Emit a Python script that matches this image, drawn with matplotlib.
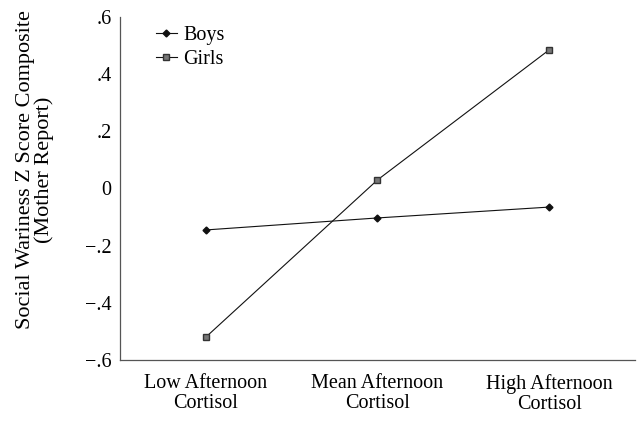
import matplotlib
matplotlib.use("Agg")
import matplotlib.pyplot as plt

categories = ["Low Afternoon\nCortisol", "Mean Afternoon\nCortisol", "High Afternoon\nCortisol"]
boys = [-0.145, -0.103, -0.065]
girls = [-0.52, 0.03, 0.485]
y_ticks = [-0.6, -0.4, -0.2, 0.0, 0.2, 0.4, 0.6]
y_tick_labels = ["\u2212.6", "\u2212.4", "\u2212.2", "0", ".2", ".4", ".6"]

plt.rcParams["font.family"] = ["Liberation Serif", "DejaVu Serif"]

fig = plt.figure(figsize=(6.39, 4.21), dpi=100)
ax = fig.add_axes([120/639, 1 - 360/421, (635 - 120)/639, (360 - 17)/421])

x = list(range(len(categories)))
ax.plot(x, boys, color="#111111", lw=0.8, marker="D", ms=3.5, label="Boys")
ax.plot(x, girls, color="#111111", lw=0.8, marker="s", ms=4.5,
        markerfacecolor="#777777", markeredgecolor="#333333", label="Girls")

ax.set_xlim(-0.5, 2.5)
ax.set_ylim(-0.6, 0.6)
ax.set_xticks(x)
ax.set_xticklabels(categories, fontsize=14.5, linespacing=1.1)
ax.set_yticks(y_ticks)
ax.set_yticklabels(y_tick_labels, fontsize=14.5)
ax.tick_params(length=0, pad=6)
ax.tick_params(axis="x", pad=10)

for side in ["top", "right"]:
    ax.spines[side].set_visible(False)
for side in ["left", "bottom"]:
    ax.spines[side].set_color("#555555")
    ax.spines[side].set_linewidth(0.9)

fig.text(35/639, 1 - 170/421, "Social Wariness Z Score Composite\n(Mother Report)",
         rotation=90, ha="center", va="center", fontsize=16, linespacing=1.0)

leg = ax.legend(loc="upper left", bbox_to_anchor=(0.055, 0.997), frameon=False,
                fontsize=14.5, handlelength=1.0, handletextpad=0.35,
                labelspacing=0.25, borderaxespad=0)

fig.savefig("out.png", dpi=100)
